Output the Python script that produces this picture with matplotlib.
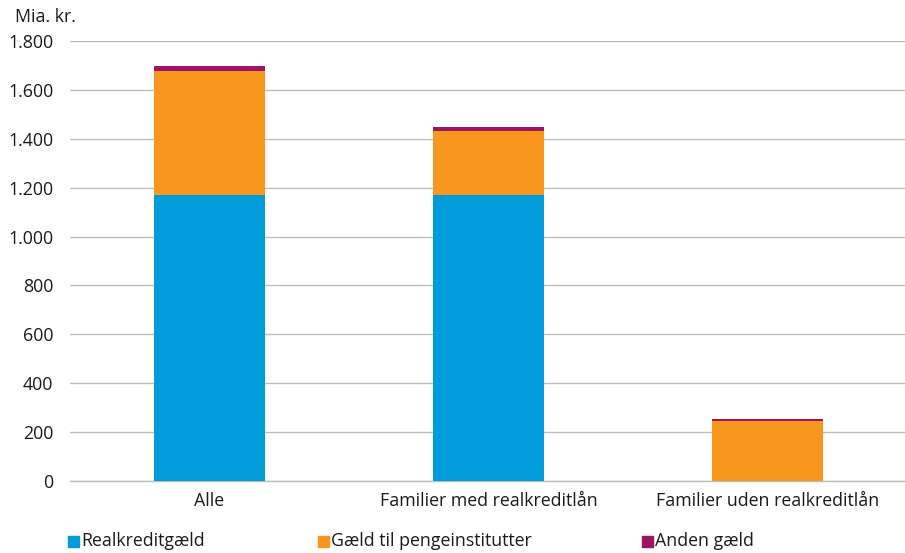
import matplotlib
matplotlib.use("Agg")
import matplotlib.pyplot as plt
from matplotlib.patches import Rectangle
import numpy as np

plt.rcParams['font.family'] = ['Open Sans', 'DejaVu Sans']

categories = ["Alle", "Familier med realkreditlån", "Familier uden realkreditlån"]
series_names = ["Realkreditgæld", "Gæld til pengeinstitutter", "Anden gæld"]
realkredit = [1170, 1170, 0]
pengeinst = [507, 262, 245]
anden = [21, 16, 8]
colors = ["#009BD9", "#F7971E", "#9B1562"]
yticks = [0, 200, 400, 600, 800, 1000, 1200, 1400, 1600, 1800]
ytick_labels = ["0", "200", "400", "600", "800", "1.000", "1.200", "1.400", "1.600", "1.800"]

FS = 12.8
W, H = 905, 553
fig = plt.figure(figsize=(W / 100, H / 100), dpi=100)
ax = fig.add_axes([70 / W, 1 - 481 / H, (907 - 70) / W, (481 - 41) / H])

x = np.arange(len(categories))
bottom = np.zeros(len(categories))
for vals, c in zip([realkredit, pengeinst, anden], colors):
    ax.bar(x, vals, width=0.4, bottom=bottom, color=c, zorder=3)
    bottom += np.array(vals)

ax.set_xlim(-0.5, len(categories) - 0.5)
ax.set_ylim(0, 1800)
ax.set_yticks(yticks)
ax.set_yticklabels(ytick_labels, fontsize=FS, color="#1a1a1a")
ax.set_xticks(x)
ax.set_xticklabels(categories, fontsize=FS, color="#1a1a1a")
ax.tick_params(axis='y', length=0, pad=12)
ax.tick_params(axis='x', length=0, pad=8)
ax.grid(axis='y', color="#BEBEBE", linewidth=1, zorder=0)
for s in ["top", "right", "left"]:
    ax.spines[s].set_visible(False)
ax.spines["bottom"].set_color("#BEBEBE")
ax.spines["bottom"].set_linewidth(1)

fig.text(15 / W, 1 - 17 / H, "Mia. kr.", fontsize=FS, color="#1a1a1a", va="center", ha="left")

# legend
leg_x = [68, 318, 642]
for xp, name, c in zip(leg_x, series_names, colors):
    fig.patches.append(Rectangle((xp / W, 1 - 547 / H), 11 / W, 11 / H,
                                 transform=fig.transFigure, color=c))
    fig.text((xp + 13) / W, 1 - 541 / H, name, fontsize=FS, color="#1a1a1a",
             va="center", ha="left")

fig.savefig("out.png", dpi=100)
